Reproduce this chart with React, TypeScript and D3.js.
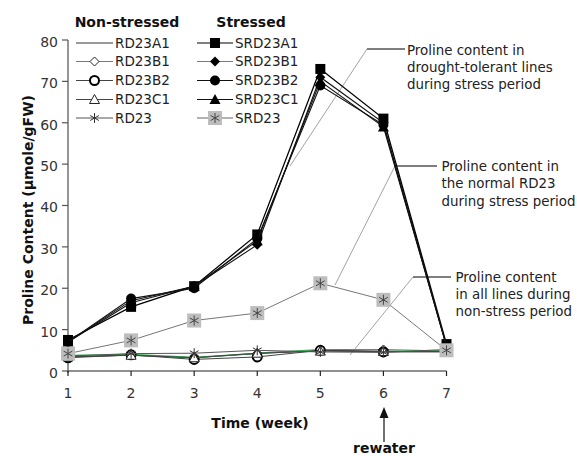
import React from "react";
import * as d3 from "d3";

const weeks = [1, 2, 3, 4, 5, 6, 7];
const yTicks = [0, 10, 20, 30, 40, 50, 60, 70, 80];

const RD23A1 = [3.5, 3.8, 3.2, 4.2, 5.0, 4.8, 4.8];
const RD23B1 = [3.8, 4.0, 3.3, 4.3, 5.2, 5.2, 4.8];
const RD23B2 = [3.2, 3.9, 2.8, 3.4, 5.0, 4.6, 4.7];
const RD23C1 = [3.4, 3.8, 3.2, 4.3, 4.8, 4.7, 4.6];
const RD23 = [3.6, 4.2, 4.3, 5.0, 4.6, 4.5, 5.2];

const SRD23A1 = [7.5, 15.5, 20.5, 33, 73, 61, 6.5];
const SRD23B1 = [7, 17, 20.5, 30.5, 71, 60, 6];
const SRD23B2 = [7, 17.5, 20, 32, 69, 59.5, 6];
const SRD23C1 = [7, 16.5, 20.5, 31.5, 70, 59, 6];
const SRD23 = [4.2, 7.4, 12.2, 14, 21.2, 17.2, 5];

type Marker = "none" | "diamondOpen" | "circleOpen" | "triOpen" | "star" | "square" | "diamond" | "circle" | "tri" | "graySquareStar";

interface Series { name: string; values: number[]; color: string; width: number; marker: Marker; }

const nonStressed: Series[] = [
  { name: "RD23A1", values: RD23A1, color: "#333", width: 1, marker: "none" },
  { name: "RD23B1", values: RD23B1, color: "#2fa84f", width: 1.2, marker: "diamondOpen" },
  { name: "RD23B2", values: RD23B2, color: "#444", width: 1, marker: "circleOpen" },
  { name: "RD23C1", values: RD23C1, color: "#444", width: 1, marker: "triOpen" },
  { name: "RD23", values: RD23, color: "#555", width: 1, marker: "star" },
];
const stressed: Series[] = [
  { name: "SRD23A1", values: SRD23A1, color: "#000", width: 1.3, marker: "square" },
  { name: "SRD23B1", values: SRD23B1, color: "#111", width: 1.1, marker: "diamond" },
  { name: "SRD23B2", values: SRD23B2, color: "#111", width: 1.1, marker: "circle" },
  { name: "SRD23C1", values: SRD23C1, color: "#111", width: 1.1, marker: "tri" },
  { name: "SRD23", values: SRD23, color: "#666", width: 0.9, marker: "graySquareStar" },
];

const FONT = "'DejaVu Sans', sans-serif";

function MarkerShape({ type, x, y }: { type: Marker; x: number; y: number }) {
  const starPath = (s: number) => {
    const a = s * 0.87;
    return `M${x},${y - s}L${x},${y + s}M${x - a},${y - s / 2}L${x + a},${y + s / 2}M${x - a},${y + s / 2}L${x + a},${y - s / 2}`;
  };
  switch (type) {
    case "none":
      return null;
    case "diamondOpen":
      return <path d={`M${x},${y - 4.5}L${x + 4.5},${y}L${x},${y + 4.5}L${x - 4.5},${y}Z`} fill="#fff" stroke="#222" strokeWidth={1} />;
    case "circleOpen":
      return <circle cx={x} cy={y} r={4.5} fill="#fff" stroke="#000" strokeWidth={2} />;
    case "triOpen":
      return <path d={`M${x},${y - 5}L${x + 5},${y + 4}L${x - 5},${y + 4}Z`} fill="#fff" stroke="#222" strokeWidth={1} />;
    case "star":
      return <path d={starPath(5)} stroke="#333" strokeWidth={1} fill="none" />;
    case "square":
      return <rect x={x - 5} y={y - 5} width={10} height={10} fill="#000" />;
    case "diamond":
      return <path d={`M${x},${y - 5}L${x + 5},${y}L${x},${y + 5}L${x - 5},${y}Z`} fill="#000" />;
    case "circle":
      return <circle cx={x} cy={y} r={5} fill="#000" />;
    case "tri":
      return <path d={`M${x},${y - 5.5}L${x + 5.5},${y + 4.5}L${x - 5.5},${y + 4.5}Z`} fill="#000" />;
    case "graySquareStar":
      return (
        <g>
          <rect x={x - 7} y={y - 7} width={14} height={14} fill="#bdbdbd" />
          <path d={starPath(5)} stroke="#444" strokeWidth={1} fill="none" />
        </g>
      );
  }
}

export default function App() {
  const x = d3.scaleLinear().domain([1, 7]).range([68, 446.5]);
  const y = d3.scaleLinear().domain([0, 80]).range([371, 40]);
  const line = d3
    .line<number>()
    .x((_, i) => x(weeks[i]))
    .y((d) => y(d));

  const drawSeries = (s: Series) => (
    <g key={s.name}>
      <path d={line(s.values) || ""} fill="none" stroke={s.color} strokeWidth={s.width} />
      {s.values.map((v, i) => (
        <MarkerShape key={i} type={s.marker} x={x(weeks[i])} y={y(v)} />
      ))}
    </g>
  );

  const legendRows = [43, 61.5, 80.5, 99.5, 118];

  const annotations = [
    { lines: ["Proline content in", "drought-tolerant lines", "during stress period"], tx: 407, ty: 50, hx0: 367, hx1: 405, hy: 49, dx: 290, dy: 166 },
    { lines: ["Proline content in", "the normal RD23", "during stress period"], tx: 441.5, ty: 166.5, hx0: 395, hx1: 437, hy: 166, dx: 335, dy: 285 },
    { lines: ["Proline content", "in all lines during", "non-stress period"], tx: 455.5, ty: 277, hx0: 413, hx1: 451, hy: 277, dx: 350, dy: 355 },
  ];

  return (
    <svg width={577} height={456} style={{ position: "absolute", left: 0, top: 0, background: "#fff" }} fontFamily={FONT}>
      <rect width={577} height={456} fill="#fff" />
      {annotations.map((a, i) => (
        <g key={i}>
          <line x1={a.hx0} y1={a.hy} x2={a.dx} y2={a.dy} stroke="#8a8a8a" strokeWidth={0.8} />
          <line x1={a.hx0} y1={a.hy} x2={a.hx1} y2={a.hy} stroke="#555" strokeWidth={1.6} />
          {a.lines.map((t, j) => (
            <text key={j} x={a.tx} y={a.ty + j * 17.3} dy="0.35em" fontSize={13.4} fill="#222">
              {t}
            </text>
          ))}
        </g>
      ))}

      <line x1={68} y1={y(80)} x2={68} y2={y(0) + 2} stroke="#7a7a7a" strokeWidth={1.6} />
      {yTicks.map((t) => (
        <g key={t}>
          <line x1={62} x2={68} y1={y(t)} y2={y(t)} stroke="#555" strokeWidth={1.2} />
          <text x={58} y={y(t) + 2} dy="0.35em" textAnchor="end" fontSize={14} fill="#333">
            {t}
          </text>
        </g>
      ))}
      <line x1={68} x2={446.5} y1={y(0)} y2={y(0)} stroke="#222" strokeWidth={1.2} />
      {weeks.map((w) => (
        <g key={w}>
          <line x1={x(w)} x2={x(w)} y1={y(0)} y2={y(0) + 5} stroke="#222" strokeWidth={1.2} />
          <text x={x(w)} y={393} dy="0.35em" textAnchor="middle" fontSize={14} fill="#333">
            {w}
          </text>
        </g>
      ))}

      {nonStressed.map(drawSeries)}
      {stressed.map(drawSeries)}

      <text transform="translate(28,210) rotate(-90)" textAnchor="middle" dy="0.35em" fontSize={14} fontWeight="bold" fill="#111">
        Proline Content (µmole/gFW)
      </text>
      <text x={260} y={423} dy="0.35em" textAnchor="middle" fontSize={14} fontWeight="bold" fill="#111">
        Time (week)
      </text>
      <line x1={384} x2={384} y1={442} y2={415} stroke="#111" strokeWidth={1.2} />
      <path d="M384,407L388.5,418L379.5,418Z" fill="#111" />
      <text x={384} y={448} dy="0.35em" textAnchor="middle" fontSize={14} fontWeight="bold" fill="#111">
        rewater
      </text>

      <text x={127} y={22} dy="0.35em" textAnchor="middle" fontSize={14} fontWeight="bold" fill="#111">
        Non-stressed
      </text>
      <text x={251} y={22} dy="0.35em" textAnchor="middle" fontSize={14} fontWeight="bold" fill="#111">
        Stressed
      </text>
      {nonStressed.map((s, i) => (
        <g key={s.name}>
          <line x1={76} x2={113} y1={legendRows[i]} y2={legendRows[i]} stroke={s.color} strokeWidth={1} />
          <MarkerShape type={s.marker} x={94.5} y={legendRows[i]} />
          <text x={115} y={legendRows[i]} dy="0.35em" fontSize={13.5} fill="#222">
            {s.name}
          </text>
        </g>
      ))}
      {stressed.map((s, i) => (
        <g key={s.name}>
          <line x1={197} x2={233} y1={legendRows[i]} y2={legendRows[i]} stroke={i === 1 ? "#2fa84f" : s.color} strokeWidth={1} />
          <MarkerShape type={s.marker} x={215} y={legendRows[i]} />
          <text x={235} y={legendRows[i]} dy="0.35em" fontSize={13.5} fill="#222">
            {s.name}
          </text>
        </g>
      ))}
    </svg>
  );
}
